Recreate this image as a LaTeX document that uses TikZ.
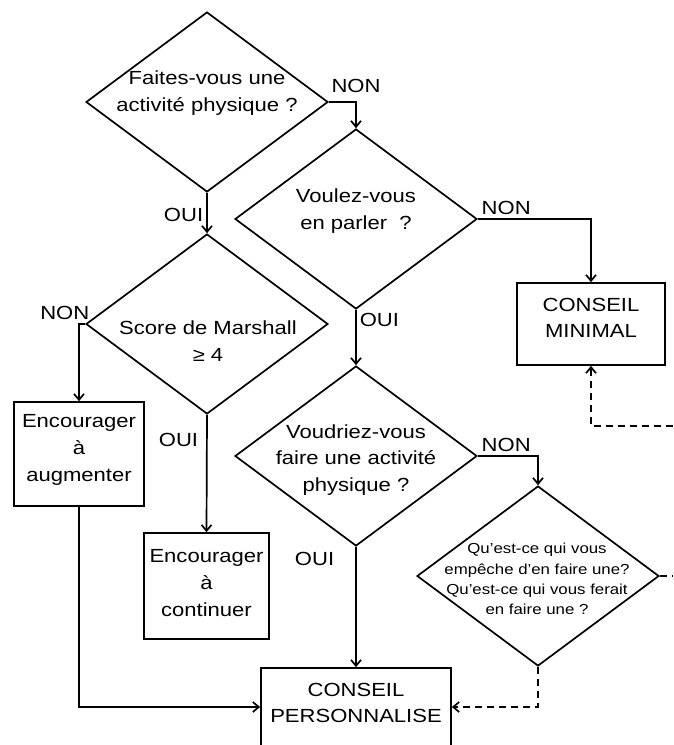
\documentclass[tikz,border=0pt]{standalone}
\usepackage{fontspec}
\setmainfont{Liberation Sans}[FakeStretch=1.16]
\usepackage{tikz}
\usetikzlibrary{arrows.meta, shapes.geometric}

\tikzset{
  quest/.style={diamond, draw, line width=1.7pt, minimum width=242pt, minimum height=180pt, inner sep=0pt},
  conseil/.style={rectangle, draw, line width=1.7pt, inner sep=0pt},
  txt/.style={align=center, inner sep=0pt, font=\fontsize{19}{26.7}\selectfont},
  smalltxt/.style={align=center, inner sep=0pt, font=\fontsize{14.5}{20.3}\selectfont},
  lbl/.style={font=\fontsize{19}{22}\selectfont, inner sep=3pt},
  ligne/.style={line width=1.7pt},
  pointille/.style={line width=1.7pt, dash pattern=on 7pt off 5pt}
}

\begin{document}
\begin{tikzpicture} [x=1pt, y=-1pt, >={Straight Barb[length=6pt, width=10pt]}]
\useasboundingbox (0,0) rectangle (673,745);
\clip (0,0) rectangle (673,745);
% questions
\node [quest] (faites) at (207,102) {};
\node [txt] (faites-t) at (207,93) {Faites-vous une\\activité physique ?};
\node [quest] (voulez) at (356,219) {};
\node [txt] (voulez-t) at (356,211) {Voulez-vous\\en parler\ \ ?};
\node [quest] (score) at (207,324) {};
\node [txt] (score-t) at (208,341) {Score de Marshall\\≥ 4};
\node [quest] (voudriez) at (356,456) {};
\node [txt] (voudriez-t) at (356,460) {Voudriez-vous\\faire une activité\\physique ?};
\node [quest] (quest) at (538,576) {};
\node [smalltxt] (quest-t) at (537,579) {Qu'est-ce qui vous\\empêche d'en faire une?\\Qu'est-ce qui vous ferait\\en faire une ?};
% conseils
\node [conseil, minimum width=130pt, minimum height=104pt] (augm) at (79,454) {};
\node [txt] (augm-t) at (79,450) {Encourager\\à\\augmenter};
\node [conseil, minimum width=125pt, minimum height=106pt] (contin) at (206.5,586) {};
\node [txt] (contin-t) at (206.5,583) {Encourager\\à\\continuer};
\node [conseil, minimum width=148pt, minimum height=82pt] (minimal) at (591,324) {};
\node [txt] (minimal-t) at (591,318) {CONSEIL\\MINIMAL};
\node [conseil, minimum width=190pt, minimum height=78pt] (perso) at (356,707) {};
\node [txt] (perso-t) at (356,703) {CONSEIL\\PERSONNALISE};
\coordinate (bord1) at (673,576);
\coordinate (bord2) at (673,426);
% fleches
\draw [ligne, ->] (faites.east) -| (voulez.north) node[lbl, above=5pt, pos=.5] (non1) {NON};
\draw [ligne, ->] (faites.south) -- (score.north) node[lbl, left, pos=.55] (oui1) {OUI};
\draw [ligne, ->] (voulez.east) -| (minimal.north) node[lbl, above right, pos=0] (non2) {NON};
\draw [ligne, ->] (voulez.south) -- (voudriez.north) node[lbl, below right, pos=0] (oui2) {OUI};
\draw [ligne, ->] (score.west) -| (augm.north) node[lbl, above left, xshift=8pt, pos=0] (non3) {NON};
\draw [ligne, ->] (score.south) -- (contin.north) node[lbl, left=5pt, pos=.21] (oui3) {OUI};
\draw [ligne, ->] (voudriez.east) -| (quest.north) node[lbl, above right, pos=0] (non4) {NON};
\draw [ligne, ->] (voudriez.south) -- (perso.north) node[lbl, left=18pt, pos=.1] (oui4) {OUI};
\draw [ligne, ->] (augm.south) |- (perso.west);
\draw [pointille, ->] (quest.south) |- (perso.east);
\draw [pointille] (quest.east) -- (bord1);
\draw [pointille, ->] (bord2) -| (minimal.south);
\end{tikzpicture}
\end{document}
